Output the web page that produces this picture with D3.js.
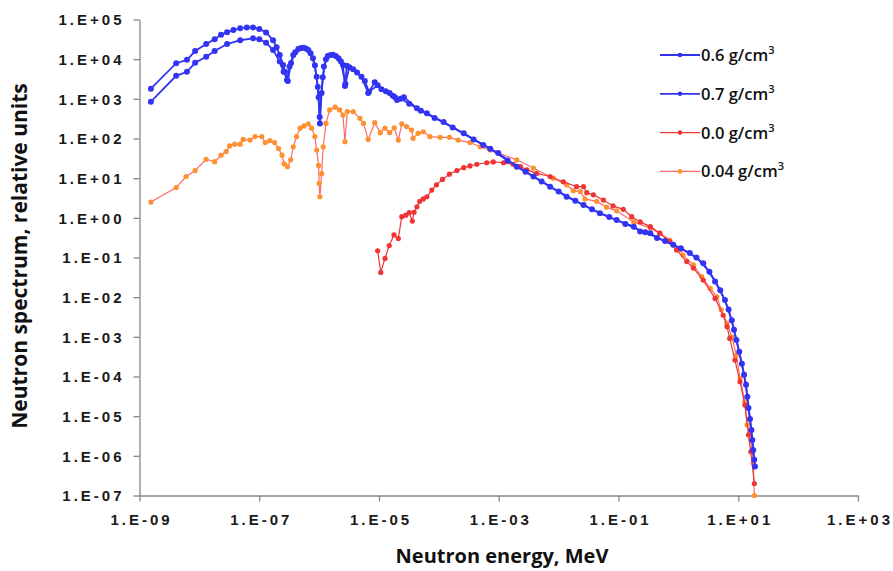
<!DOCTYPE html>
<html>
<head>
<meta charset="utf-8">
<script src="https://cdnjs.cloudflare.com/ajax/libs/d3/7.8.5/d3.min.js"></script>
<style>
  body { margin: 0; background: #fff; }
  svg { display: block; }
</style>
</head>
<body>
<div id="graph"><svg></svg></div>
<script>
// series: [energy MeV, spectrum]
const rho06 = [
  [1.55e-9, 1.8e3], [4.1e-9, 7.9e3], [6.2e-9, 9.6e3], [8.5e-9, 1.6e4], [1.3e-8, 2.4e4],
  [1.8e-8, 3.2e4], [2.3e-8, 4.1e4], [2.9e-8, 4.8e4], [3.7e-8, 5.4e4], [4.8e-8, 6.0e4],
  [6.2e-8, 6.3e4], [7.9e-8, 6.3e4], [1.0e-7, 5.8e4], [1.3e-7, 4.7e4], [1.7e-7, 3.0e4],
  [1.95e-7, 2.0e4], [2.2e-7, 1.27e4], [2.5e-7, 7.1e3], [2.7e-7, 4.8e3], [2.9e-7, 3.0e3],
  [3.2e-7, 6.5e3], [3.7e-7, 1.27e4], [4.5e-7, 1.8e4], [5.5e-7, 1.95e4], [6.6e-7, 1.7e4],
  [7.9e-7, 1.05e4], [9.1e-7, 3.6e3], [9.8e-7, 1.1e3], [1.03e-6, 2.4e2], [1.1e-6, 1.4e3],
  [1.2e-6, 6.5e3], [1.4e-6, 1.2e4], [1.7e-6, 1.3e4], [2.1e-6, 1.05e4], [2.5e-6, 7.1e3],
  [2.7e-6, 2.1e3], [2.9e-6, 6.8e3], [3.7e-6, 5.6e3], [5.1e-6, 3.6e3], [6.6e-6, 1.4e3],
  [8.5e-6, 2.6e3], [1.1e-5, 1.75e3], [1.5e-5, 1.4e3], [1.85e-5, 1.1e3], [2.0e-5, 9.3e2],
  [2.6e-5, 1.1e3], [4.3e-5, 5.8e2], [6.3e-5, 4.3e2], [1.2e-4, 2.6e2], [2.6e-4, 1.35e2],
  [5.5e-4, 69], [9.8e-4, 43], [2.0e-3, 19.5], [3.8e-3, 11], [7.2e-3, 6.1], [1.36e-2, 3.4],
  [2.6e-2, 2.1], [4.9e-2, 1.3], [9.3e-2, 0.88], [0.18, 0.6], [0.23, 0.45], [0.34, 0.41],
  [0.44, 0.31], [0.82, 0.21], [1.55, 0.13], [2.6, 7.2e-2], [4.1, 2.5e-2], [6.0, 8.5e-3],
  [7.8, 2.6e-3], [9.3, 8.3e-4], [11.5, 2.1e-4], [13.5, 6.2e-5], [14.8, 1.6e-5],
  [16.6, 4.5e-6], [17.8, 1.4e-6], [19, 5.4e-7]
];

const rho07 = [
  [1.55e-9, 8.5e2], [4.1e-9, 3.8e3], [6.2e-9, 4.8e3], [8.5e-9, 8.1e3], [1.3e-8, 1.15e4],
  [1.8e-8, 1.6e4], [2.9e-8, 2.4e4], [4.8e-8, 3.0e4], [7.9e-8, 3.35e4], [1.0e-7, 3.2e4],
  [1.3e-7, 2.6e4], [1.7e-7, 1.7e4], [2.2e-7, 8.7e3], [2.55e-7, 4.8e3], [3.0e-7, 2.8e3],
  [3.4e-7, 8.0e3], [4.0e-7, 1.5e4], [5.0e-7, 1.9e4], [6.0e-7, 1.85e4], [7.2e-7, 1.4e4],
  [8.5e-7, 7.0e3], [9.5e-7, 2.0e3], [1.02e-6, 3.5e2], [1.15e-6, 3.5e3], [1.3e-6, 1.0e4],
  [1.55e-6, 1.28e4], [1.9e-6, 1.2e4], [2.3e-6, 8.8e3], [2.75e-6, 2.4e3], [3.2e-6, 6.3e3],
  [4.3e-6, 4.6e3], [5.8e-6, 2.8e3], [6.8e-6, 1.5e3], [9.5e-6, 2.2e3], [1.3e-5, 1.55e3],
  [1.7e-5, 1.2e3], [2.3e-5, 1.0e3], [3.2e-5, 7.5e2], [5.0e-5, 5.0e2], [8.5e-5, 3.3e2],
  [1.7e-4, 1.9e2], [3.8e-4, 95], [7.2e-4, 55], [1.4e-3, 28], [2.8e-3, 14.5], [5.2e-3, 8.3],
  [1.0e-2, 4.6], [1.9e-2, 2.7], [3.6e-2, 1.65], [7.0e-2, 1.05], [0.13, 0.7], [0.28, 0.43],
  [0.6, 0.26], [1.1, 0.17], [2.0, 0.1], [3.3, 4.4e-2], [5.0, 1.5e-2], [6.9, 4.9e-3],
  [8.5, 1.5e-3], [10.4, 4.2e-4], [12.5, 1.1e-4], [14.2, 3.1e-5], [15.7, 8.5e-6],
  [17.2, 2.5e-6], [18.5, 8.0e-7]
];

const rho00 = [
  [9.5e-6, 0.148], [1.07e-5, 0.042], [1.26e-5, 0.095], [1.48e-5, 0.2], [1.78e-5, 0.37],
  [2.1e-5, 0.30], [2.4e-5, 1.07], [2.8e-5, 1.17], [3.2e-5, 1.35], [3.6e-5, 0.83],
  [3.85e-5, 1.38], [4.3e-5, 1.9], [4.8e-5, 2.6], [5.5e-5, 3.0], [6.3e-5, 3.4],
  [7.6e-5, 5.0], [9.1e-5, 6.8], [1.15e-4, 9.3], [1.5e-4, 12.6], [2.0e-4, 15.5],
  [2.6e-4, 18.4], [3.3e-4, 20.4], [4.3e-4, 22.4], [6.3e-4, 24.5], [8.1e-4, 25.7],
  [1.2e-3, 24.5], [1.74e-3, 22.4], [2.3e-3, 19.5], [2.95e-3, 16.2], [4.3e-3, 13.2],
  [7.2e-3, 11], [1.2e-2, 8.1], [2.0e-2, 6.1], [2.6e-2, 6.1], [2.95e-2, 4.3],
  [3.8e-2, 3.8], [5.6e-2, 2.8], [8.1e-2, 2.0], [0.12, 1.64], [0.166, 1.07],
  [0.23, 0.79], [0.34, 0.6], [0.49, 0.41], [0.72, 0.25], [0.93, 0.155], [1.38, 7.9e-2],
  [1.78, 5.4e-2], [2.6, 2.7e-2], [4.1, 9.3e-3], [5.6, 3.5e-3], [6.5, 1.8e-3],
  [7.2, 9.1e-4], [8.8, 2.6e-4], [10.7, 7.4e-5], [12.9, 1.9e-5], [14.8, 3.4e-6],
  [16.2, 1.27e-6], [18.6, 2.0e-7]
];

const rho004 = [
  [1.55e-9, 2.5], [4.1e-9, 5.8], [6.0e-9, 11], [8.5e-9, 15.5], [1.3e-8, 30], [1.8e-8, 26],
  [2.3e-8, 38], [2.8e-8, 47], [3.2e-8, 65], [3.9e-8, 72], [4.8e-8, 72], [5.4e-8, 95],
  [7.0e-8, 91], [8.5e-8, 112], [1.1e-7, 112], [1.26e-7, 79], [1.5e-7, 88], [1.8e-7, 79],
  [2.1e-7, 56], [2.4e-7, 38], [2.6e-7, 23], [2.95e-7, 19.5], [3.35e-7, 29], [3.7e-7, 62],
  [4.2e-7, 112], [4.8e-7, 182], [5.6e-7, 207], [6.6e-7, 234], [7.5e-7, 182], [8.5e-7, 112],
  [9.1e-7, 51], [9.8e-7, 21], [1.0e-6, 7.4], [1.03e-6, 3.4], [1.1e-6, 13], [1.17e-6, 62],
  [1.3e-6, 240], [1.5e-6, 525], [1.85e-6, 615], [2.2e-6, 525], [2.5e-6, 390], [2.7e-6, 83],
  [2.95e-6, 477], [3.7e-6, 477], [4.8e-6, 323], [5.5e-6, 240], [6.6e-6, 95], [8.5e-6, 250],
  [1.05e-5, 140], [1.26e-5, 182], [1.5e-5, 140], [1.8e-5, 186], [2.1e-5, 91], [2.4e-5, 234],
  [2.9e-5, 200], [3.5e-5, 164], [3.7e-5, 101], [4.5e-5, 135], [5.5e-5, 148], [7.1e-5, 111],
  [1.05e-4, 107], [1.5e-4, 107], [2.1e-4, 91], [3.3e-4, 79], [4.9e-4, 62], [7.2e-4, 51],
  [9.8e-4, 43], [2.0e-3, 29], [3.8e-3, 18], [8.1e-3, 10], [1.36e-2, 6.8], [1.76e-2, 4.8],
  [2.3e-2, 4.6], [2.75e-2, 3.0], [4.3e-2, 2.6], [6.3e-2, 1.86], [9.3e-2, 1.5], [0.18, 0.79],
  [0.34, 0.55], [0.49, 0.41], [0.72, 0.275], [1.07, 0.155], [1.2, 0.115], [1.78, 6.5e-2],
  [2.45, 3.3e-2], [3.4, 1.66e-2], [4.4, 1.02e-2], [5.2, 4.8e-3], [6.5, 2.2e-3], [7.8, 1.0e-3],
  [9.3, 3.5e-4], [10.7, 9.1e-5], [12.9, 2.3e-5], [14.1, 6.0e-6], [16.2, 2.5e-6],
  [17.8, 6.5e-7], [18.6, 1.0e-7]
];

const seriesNames = ["0.6", "0.7", "0.0", "0.04"];
const seriesData = [rho06, rho07, rho00, rho004];
const lineColors = ["#3333f2", "#3333f2", "#f03434", "#ff6a6a"];
const markColors = ["#3333f2", "#3333f2", "#f03434", "#ff9030"];

const xTicks = [1e-9, 1e-7, 1e-5, 1e-3, 1e-1, 1e1, 1e3];
const yTicks = [1e5, 1e4, 1e3, 1e2, 1e1, 1e0, 1e-1, 1e-2, 1e-3, 1e-4, 1e-5, 1e-6, 1e-7];

const W = 893, H = 571;
const plot = { left: 139.5, right: 858, top: 19.5, bottom: 495.5 };

const svg = d3.select("#graph svg").attr("width", W).attr("height", H);

const x = d3.scaleLog().domain([1e-9, 1e3]).range([plot.left, plot.right]);
const y = d3.scaleLog().domain([1e-7, 1e5]).range([plot.bottom, plot.top]);

// "1.E+05" style labels
function sci(v) {
  const e = Math.round(Math.log10(v));
  return "1.E" + (e < 0 ? "-" : "+") + String(Math.abs(e)).padStart(2, "0");
}

// axes
const xAxis = svg.append("g")
  .attr("transform", "translate(0," + plot.bottom + ")")
  .call(d3.axisBottom(x).tickValues(xTicks).tickFormat(sci).tickSize(6).tickSizeOuter(0));
const yAxis = svg.append("g")
  .attr("transform", "translate(" + plot.left + ",0)")
  .call(d3.axisLeft(y).tickValues(yTicks).tickFormat(sci).tickSize(6).tickSizeOuter(0));

[xAxis, yAxis].forEach((g) => {
  g.select(".domain").attr("stroke", "#868686").attr("stroke-width", 1.3);
  g.selectAll(".tick line").attr("stroke", "#868686").attr("stroke-width", 1.3);
  g.selectAll(".tick text")
    .attr("fill", "#1a1a1a")
    .style("font-family", "'Liberation Sans', Arial, sans-serif")
    .style("font-weight", "bold")
    .style("font-size", "15px")
    .style("letter-spacing", "3px");
});
xAxis.selectAll(".tick text").attr("y", 29.5).attr("dy", 0).attr("dx", 1.5);
yAxis.selectAll(".tick text").attr("x", -15).attr("dy", "0.36em");

// lines + markers
const line = d3.line().x((d) => x(d[0])).y((d) => y(d[1]));
const order = [3, 2, 1, 0];
order.forEach((i) => {
  const g = svg.append("g");
  const blue = i < 2;
  g.append("path")
    .datum(seriesData[i])
    .attr("fill", "none")
    .attr("stroke", lineColors[i])
    .attr("stroke-width", blue ? 1.8 : 1.2)
    .attr("d", line);
  g.selectAll("circle")
    .data(seriesData[i])
    .join("circle")
    .attr("cx", (d) => x(d[0]))
    .attr("cy", (d) => y(d[1]))
    .attr("r", blue ? 3 : 2.6)
    .attr("fill", markColors[i]);
});

// axis titles
svg.append("text")
  .attr("transform", "translate(27,256) rotate(-90)")
  .attr("text-anchor", "middle")
  .style("font-family", "'Open Sans', sans-serif")
  .style("font-weight", "bold")
  .style("font-size", "21px")
  .attr("fill", "#111")
  .text("Neutron spectrum, relative units");

svg.append("text")
  .attr("x", 502)
  .attr("y", 563)
  .attr("text-anchor", "middle")
  .style("font-family", "'Open Sans', sans-serif")
  .style("font-weight", "bold")
  .style("font-size", "20px")
  .attr("fill", "#111")
  .text("Neutron energy, MeV");

// legend
const legend = svg.append("g").attr("transform", "translate(660,55)");
seriesNames.forEach((name, i) => {
  const row = legend.append("g").attr("transform", "translate(0," + i * 38.8 + ")");
  row.append("line")
    .attr("x1", 0).attr("x2", 40)
    .attr("stroke", lineColors[i])
    .attr("stroke-width", i < 2 ? 1.8 : 1.2);
  row.append("circle").attr("cx", 20).attr("r", 2.3).attr("fill", markColors[i]);
  const t = row.append("text")
    .attr("x", 41)
    .attr("y", 6)
    .style("font-family", "'Open Sans', sans-serif")
    .style("font-weight", "600")
    .style("font-size", "16.5px")
    .attr("fill", "#111");
  t.append("tspan").text(name + " g/cm");
  t.append("tspan").attr("dy", -7).style("font-size", "11px").text("3");
});
</script>
</body>
</html>
